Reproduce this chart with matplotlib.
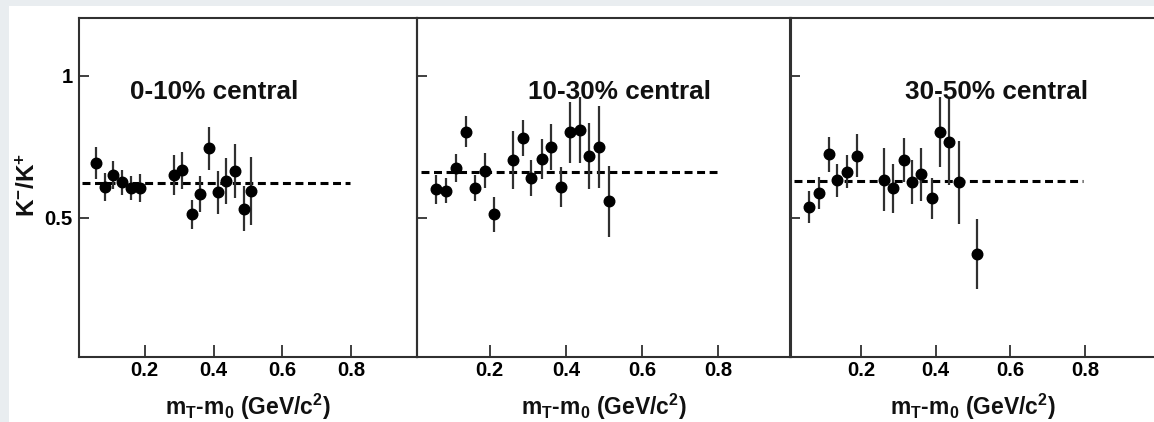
import matplotlib
matplotlib.use("Agg")
import matplotlib.pyplot as plt
from matplotlib.patches import Rectangle

# ---------------- data ----------------
panel_labels = ["0-10% central", "10-30% central", "30-50% central"]

x_c1 = [0.060, 0.086, 0.110, 0.136, 0.161, 0.188, 0.284, 0.310, 0.338, 0.362,
        0.387, 0.412, 0.437, 0.463, 0.489, 0.510]
y_c1 = [0.693, 0.609, 0.651, 0.625, 0.606, 0.606, 0.651, 0.667, 0.512, 0.584,
        0.745, 0.590, 0.630, 0.666, 0.533, 0.595]
e_c1 = [0.055, 0.048, 0.048, 0.044, 0.042, 0.050, 0.069, 0.065, 0.052, 0.063,
        0.076, 0.075, 0.081, 0.095, 0.079, 0.120]

x_c2 = [0.061, 0.087, 0.111, 0.138, 0.161, 0.188, 0.211, 0.261, 0.288, 0.310,
        0.337, 0.361, 0.387, 0.411, 0.438, 0.461, 0.488, 0.512]
y_c2 = [0.600, 0.596, 0.676, 0.804, 0.606, 0.666, 0.512, 0.703, 0.781, 0.641,
        0.707, 0.749, 0.609, 0.802, 0.810, 0.719, 0.749, 0.558]
e_c2 = [0.050, 0.045, 0.048, 0.056, 0.046, 0.062, 0.062, 0.103, 0.063, 0.064,
        0.070, 0.081, 0.071, 0.107, 0.116, 0.116, 0.144, 0.125]

x_c3 = [0.062, 0.087, 0.114, 0.137, 0.162, 0.189, 0.262, 0.287, 0.315, 0.337,
        0.361, 0.389, 0.411, 0.436, 0.463, 0.510]
y_c3 = [0.539, 0.589, 0.724, 0.632, 0.663, 0.719, 0.635, 0.604, 0.704, 0.627,
        0.653, 0.569, 0.802, 0.769, 0.625, 0.372]
e_c3 = [0.056, 0.056, 0.062, 0.057, 0.058, 0.075, 0.111, 0.087, 0.076, 0.078,
        0.093, 0.073, 0.123, 0.153, 0.145, 0.123]

fit_levels = [0.622, 0.662, 0.631]
fit_range = [0.02, 0.795]

x_ticks = [0.2, 0.4, 0.6, 0.8]
x_ticklabels = ["0.2", "0.4", "0.6", "0.8"]
y_ticks = [0.5, 1.0]
y_ticklabels = ["0.5", "1"]

xs = [x_c1, x_c2, x_c3]
ys = [y_c1, y_c2, y_c3]
es = [e_c1, e_c2, e_c3]

# ---------------- style ----------------
FONT = "Liberation Sans"
plt.rcParams["font.family"] = [FONT, "DejaVu Sans"]
plt.rcParams["font.weight"] = "bold"
plt.rcParams["mathtext.fontset"] = "custom"
plt.rcParams["mathtext.rm"] = FONT + ":bold"
plt.rcParams["mathtext.it"] = FONT + ":bold"
plt.rcParams["mathtext.bf"] = FONT + ":bold"
plt.rcParams["mathtext.default"] = "rm"

W, H = 1154, 422
fig = plt.figure(figsize=(W / 100, H / 100), dpi=100)
fig.patch.set_facecolor("#e9edf0")
fig.patches.append(Rectangle((9 / W, 0), 1, (H - 6) / H, transform=fig.transFigure,
                             facecolor="white", edgecolor="none", zorder=-10))

# axes pixel geometry (left, width)
boxes = [(79, 338), (417, 374), (790, 366)]
top_px, bot_px = 18, 357
text_x = [0.158, 0.302, 0.318]

frame_col = "#303030"
for i, (lpx, wpx) in enumerate(boxes):
    ax = fig.add_axes([lpx / W, (H - bot_px) / H, wpx / W, (bot_px - top_px) / H])
    ax.set_zorder(5)
    ax.set_facecolor("none")
    ax.set_xlim(0.01, 0.99)
    ax.set_ylim(0.01, 1.204)
    for s in ax.spines.values():
        s.set_linewidth(1.5)
        s.set_color(frame_col)
    ax.set_xticks(x_ticks)
    ax.set_xticklabels(x_ticklabels)
    ax.set_yticks(y_ticks)
    if i == 0:
        ax.set_yticklabels(y_ticklabels)
    else:
        ax.set_yticklabels([])
    ax.tick_params(axis="x", direction="in", length=8.6, width=1.3, color=frame_col,
                   labelsize=14.6, pad=3, top=False)
    ax.tick_params(axis="y", direction="in", length=7, width=1.3, color=frame_col,
                   labelsize=14.6, pad=4.5, right=False)
    for lab in ax.get_xticklabels() + ax.get_yticklabels():
        lab.set_fontweight("bold")

    # fit line
    ax.plot(fit_range, [fit_levels[i], fit_levels[i]], color="black", lw=2.2,
            dashes=(2.6, 1.5), zorder=2)
    # data
    ax.errorbar(xs[i], ys[i], yerr=es[i], fmt="o", color="black", ms=7.6,
                ecolor="#303030", elinewidth=1.6, capsize=0, zorder=3)

    ax.text(text_x[i], 0.918, panel_labels[i], fontsize=18.8, fontweight="bold",
            ha="left", va="baseline", color="#111111")

    ax.text(0.5, -0.171, r"m$_\mathrm{T}$-m$_\mathrm{0}$ (GeV/c$^\mathrm{2}$)",
            transform=ax.transAxes, fontsize=16.5, fontweight="bold",
            ha="center", va="baseline", color="#111111")

fig.text(28 / W, (H - 185) / H, r"K$^{-}$/K$^{+}$", rotation=90, fontsize=17.5,
         fontweight="bold", ha="center", va="center", color="#111111")

fig.savefig("out.png", dpi=100, facecolor=fig.get_facecolor())
